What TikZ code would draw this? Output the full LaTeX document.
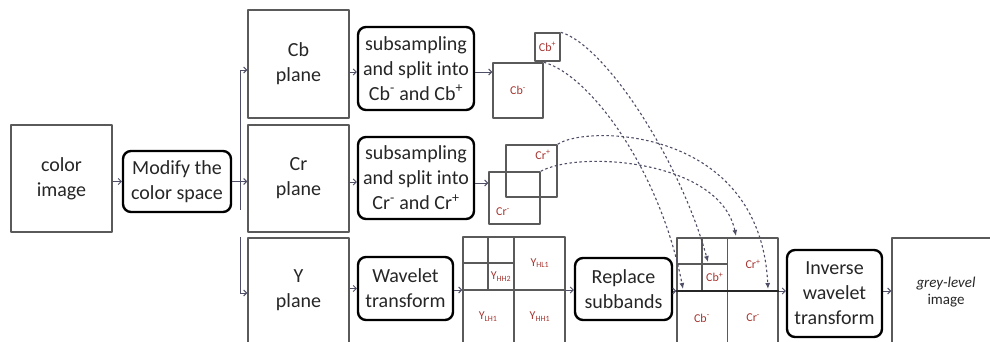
\documentclass[tikz,border=0pt]{standalone}
\usepackage{fontspec}
\setmainfont{Carlito}
\usetikzlibrary{arrows.meta,calc}
\definecolor{linegrey}{HTML}{5A5A5A}
\definecolor{textgrey}{HTML}{262626}
\definecolor{flowblue}{HTML}{4E4E66}
\definecolor{labelred}{HTML}{A5342F}
\tikzset{
  plainbox/.style={draw=linegrey, line width=1.5pt, align=center, inner sep=0pt, text=textgrey},
  roundbox/.style={draw=black, line width=2.4pt, rounded corners=8pt, align=center, inner sep=0pt, text=textgrey},
  minibox/.style={draw=linegrey, line width=1.5pt, inner sep=0pt, text=labelred, font=\fontsize{12}{14}\selectfont},
  cell/.style={text=labelred, inner sep=0pt, font=\fontsize{12}{14}\selectfont},
  flow/.style={->, draw=flowblue, line width=0.9pt},
  branch/.style={draw=flowblue, line width=0.9pt},
  swap/.style={draw=flowblue, line width=1.1pt, dash pattern=on 2.5pt off 2.5pt, -{Latex[length=6pt,width=5pt]}}
}
\begin{document}
\begin{tikzpicture}[x=1pt, y=-1pt, font=\fontsize{20}{25}\selectfont, line join=round, >={Straight Barb[length=3pt,width=6pt]}]
	%%%%%%%%%%%%%%%%%%%%%%%%%%%%%%%%%
	\clip (0,0) rectangle (990,342);
	%%%%%%%%%%%%%%%%%%%%%%%%%%%%%%%%%
	\node[plainbox, minimum width=101pt, minimum height=107pt] (colorimg) at (61.5,178.5) {color\\image};
	\node[roundbox, minimum width=108pt, minimum height=61pt] (modify) at (177,181.5) {Modify the\\color space};
	\node[plainbox, minimum width=101pt, minimum height=108pt] (cbplane) at (298.5,64) {Cb\\plane};
	\node[plainbox, minimum width=101pt, minimum height=107pt] (crplane) at (298.5,178.5) {Cr\\plane};
	\node[plainbox, minimum width=101pt, minimum height=124pt] (yplane) at (298.5,300) {};
	\node[align=center, text=textgrey, inner sep=0pt] (ytext) at (298.5,290) {Y\\plane};
	\node[roundbox, minimum width=116pt, minimum height=83pt] (subcb) at (416,68.5) {subsampling\\and split into\\Cb\textsuperscript{-} and Cb\textsuperscript{+}};
	\node[roundbox, minimum width=116pt, minimum height=82pt] (subcr) at (416,178) {subsampling\\and split into\\Cr\textsuperscript{-} and Cr\textsuperscript{+}};
	\node[roundbox, minimum width=95pt, minimum height=63pt] (wavelet) at (405.5,288.5) {Wavelet\\transform};
	%%%%%%%%%%%%%%%%%%%%%%%%%%%%%%%%%
	\node[minibox, minimum width=50pt, minimum height=55pt] (cbminus) at (518,90.5) {Cb\textsuperscript{-}};
	\node[minibox, minimum width=25pt, minimum height=28pt] (cbplus) at (547.5,47) {Cb\textsuperscript{+}};
	\node[minibox, minimum width=51pt, minimum height=52pt] (crplus) at (531.5,171) {};
	\node[minibox, minimum width=51pt, minimum height=52pt] (crminus) at (514.5,198) {};
	\node[cell] (lcrplus) at (543,155) {Cr\textsuperscript{+}};
	\node[cell] (lcrminus) at (503,212) {Cr\textsuperscript{-}};
	%%%%%%%%%%%%%%%%%%%%%%%%%%%%%%%%%
	\node[plainbox, minimum width=102pt, minimum height=106pt] (wgrid) at (514,290) {};
	\draw[linegrey, line width=1.5pt] (wgrid.north) -- (wgrid.south) (wgrid.west) -- (wgrid.east);
	\draw[linegrey, line width=1.5pt] ($(wgrid.north west)!0.25!(wgrid.north east)$) -- ($(wgrid.west)!0.25!(wgrid.east)$)
		($(wgrid.north west)!0.25!(wgrid.south west)$) -- ($(wgrid.north)!0.25!(wgrid.south)$);
	\node[cell] (yhl) at ($(wgrid.north)!0.5!(wgrid.east)$) {Y\textsubscript{HL1}};
	\node[cell] (yhh2) at ($(wgrid.north west)!0.375!(wgrid.south east)$) {Y\textsubscript{HH2}};
	\node[cell] (ylh) at ($(wgrid.west)!0.5!(wgrid.south)$) {Y\textsubscript{LH1}};
	\node[cell] (yhh) at ($(wgrid.south)!0.5!(wgrid.east)$) {Y\textsubscript{HH1}};
	%%%%%%%%%%%%%%%%%%%%%%%%%%%%%%%%%
	\node[roundbox, minimum width=97pt, minimum height=62pt] (replace) at (623.5,289) {Replace\\subbands};
	\node[plainbox, minimum width=101pt, minimum height=106pt] (rgrid) at (727.5,291) {};
	\draw[linegrey, line width=1.5pt] (rgrid.north) -- (rgrid.south);
	\draw[linegrey, line width=1.5pt] ($(rgrid.north west)!0.25!(rgrid.north east)$) -- ($(rgrid.west)!0.25!(rgrid.east)$)
		($(rgrid.north west)!0.25!(rgrid.south west)$) -- ($(rgrid.north)!0.25!(rgrid.south)$);
	\draw[textgrey, line width=2.6pt] (rgrid.west) -- (rgrid.east);
	\node[cell] (rcrplus) at ($(rgrid.north)!0.5!(rgrid.east)$) {Cr\textsuperscript{+}};
	\node[cell] (rcbplus) at ($(rgrid.north west)!0.375!(rgrid.south east)$) {Cb\textsuperscript{+}};
	\node[cell] (rcbminus) at ($(rgrid.west)!0.5!(rgrid.south)$) {Cb\textsuperscript{-}};
	\node[cell] (rcrminus) at ($(rgrid.south)!0.5!(rgrid.east)$) {Cr\textsuperscript{-}};
	\node[roundbox, minimum width=95pt, minimum height=87pt] (inverse) at (834.5,293.5) {Inverse\\wavelet\\transform};
	\node[plainbox, minimum width=108pt, minimum height=108pt, font=\fontsize{15}{17}\selectfont] (greyimg) at (946,292) {\textit{grey-level}\\image};
	%%%%%%%%%%%%%%%%%%%%%%%%%%%%%%%%%
	\coordinate (btop) at (240,70);
	\coordinate (bmid) at (240,210);
	\coordinate (blow) at (240,237);
	\coordinate (bbot) at (240,293);
	\draw[branch] (btop) -- (bmid);
	\draw[branch] (blow) -- (bbot);
	\draw[flow] (colorimg.east |- modify) -- (modify);
	\draw[flow] (modify.east) -- (modify.east -| crplane.west);
	\draw[flow] (btop) -- (btop -| cbplane.west);
	\draw[flow] (bbot) -- (bbot -| yplane.west);
	\draw[flow] (cbplane.east |- 0,72) -- (subcb.west |- 0,72);
	\draw[flow] (crplane.east |- 0,182) -- (subcr.west |- 0,182);
	\draw[flow] (yplane.east |- wavelet) -- (wavelet);
	\draw[flow] (subcb.east |- 0,72) -- (cbminus.west |- 0,72);
	\draw[flow] (subcr.east |- 0,183) -- (crminus.west |- 0,183);
	\draw[flow] (wavelet.east |- wgrid) -- (wgrid);
	\draw[flow] (wgrid) -- (replace.west |- wgrid);
	\draw[flow] (replace.east |- rgrid) -- (rgrid);
	\draw[flow] (rgrid) -- (inverse.west |- rgrid);
	\draw[flow] (inverse.east |- rgrid) -- (greyimg.west |- rgrid);
	%%%%%%%%%%%%%%%%%%%%%%%%%%%%%%%%%
	\coordinate (toCbm) at (683,289);
	\coordinate (toCbp) at (708,262);
	\coordinate (toCrm) at (768,289);
	\coordinate (toCrp) at (736,236);
	\draw[swap] (cbminus.north east) .. controls (590,75) and (660,170) .. (toCbm);
	\draw[swap] (cbplus.north east) .. controls (605,45) and (680,160) .. (toCbp);
	\draw[swap] (crplus.north east) .. controls (585,125) and (760,125) .. (toCrm);
	\draw[swap] (crminus.north east) .. controls (580,150) and (720,160) .. (toCrp);
	%%%%%%%%%%%%%%%%%%%%%%%%%%%%%%%%%
\end{tikzpicture}
\end{document}
